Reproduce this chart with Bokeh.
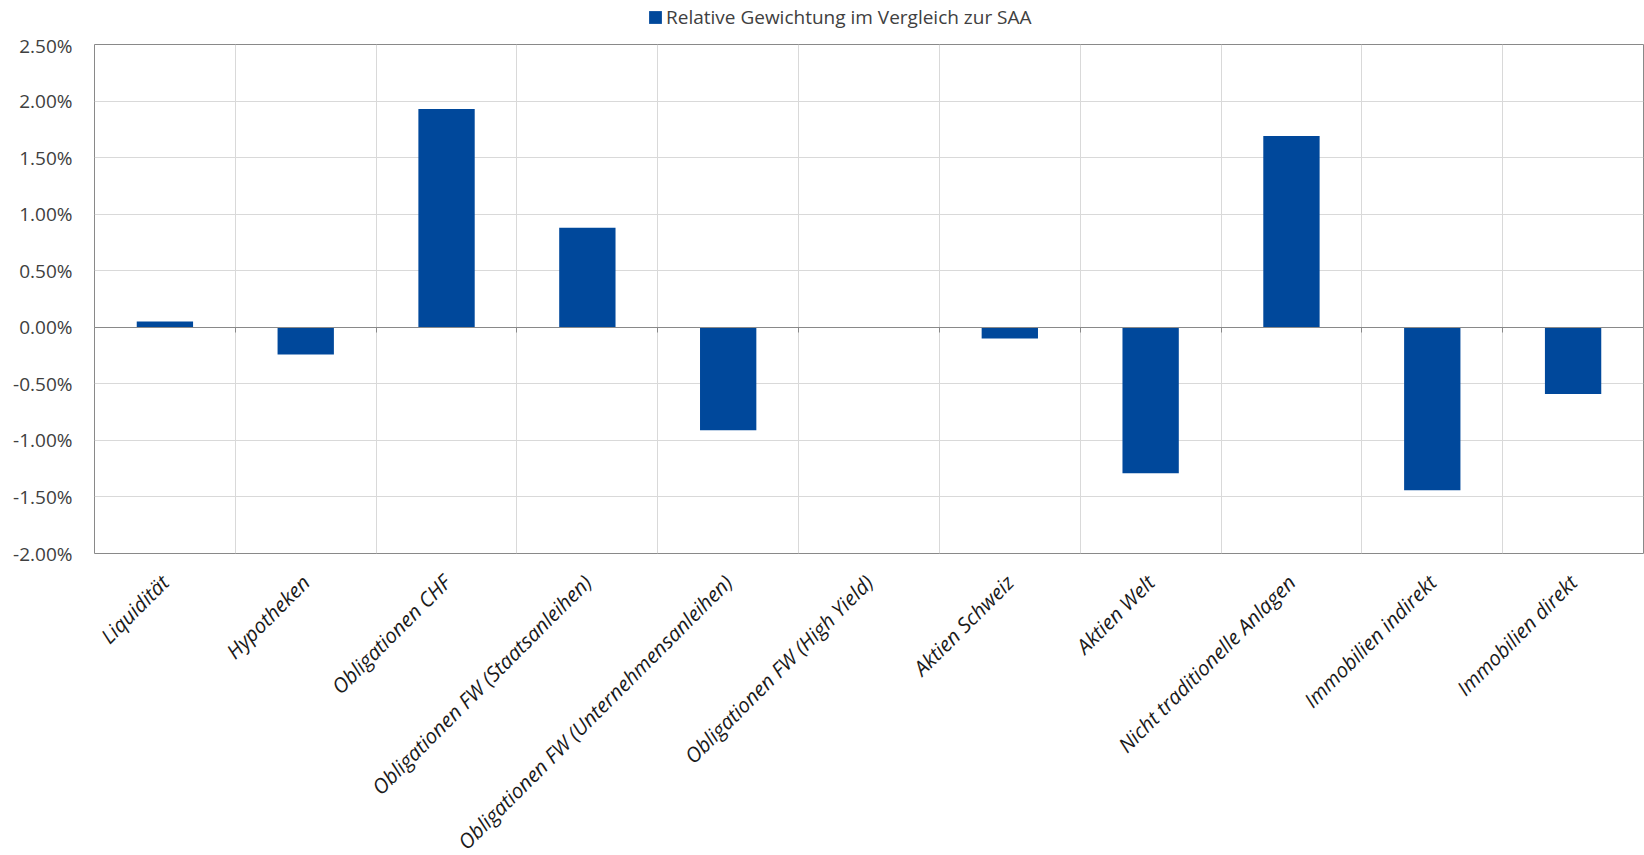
from math import pi

from bokeh.embed import file_html
from bokeh.layouts import column
from bokeh.models import (ColumnDataSource, FixedTicker, Legend, LegendItem,
                          LinearAxis, PrintfTickFormatter, Range1d)
from bokeh.plotting import figure
from bokeh.resources import INLINE

# Asset classes and their relative weight versus the strategic allocation (in %)
categories = [
    "Liquidität",
    "Hypotheken",
    "Obligationen CHF",
    "Obligationen FW (Staatsanleihen)",
    "Obligationen FW (Unternehmensanleihen)",
    "Obligationen FW (High Yield)",
    "Aktien Schweiz",
    "Aktien Welt",
    "Nicht traditionelle Anlagen",
    "Immobilien indirekt",
    "Immobilien direkt",
]
relative_weight = [0.05, -0.24, 1.93, 0.88, -0.91, 0.0, -0.10, -1.29, 1.69, -1.44, -0.59]
y_ticks = [-2.0, -1.5, -1.0, -0.5, 0.0, 0.5, 1.0, 1.5, 2.0, 2.5]
series_name = "Relative Gewichtung im Vergleich zur SAA"

FONT = "Open Sans"
BAR_COLOR = "#00489b"
GRID_COLOR = "#d9d9d9"
AXIS_COLOR = "#898989"

n = len(categories)
centers = [i + 0.5 for i in range(n)]
source = ColumnDataSource(dict(x=centers, top=relative_weight, name=categories))

# ---- main chart -----------------------------------------------------------
p = figure(
    frame_width=1549, frame_height=509,
    output_backend="svg", toolbar_location=None,
    x_range=Range1d(0, n), y_range=Range1d(y_ticks[0], y_ticks[-1]),
    min_border_left=94, min_border_right=1,
    min_border_top=12, min_border_bottom=300,
    outline_line_color=AXIS_COLOR, outline_line_width=1,
    background_fill_color="white", border_fill_color="white",
)

bars = p.vbar(x="x", top="top", bottom=0, width=0.4, source=source,
              fill_color=BAR_COLOR, line_color=None)

# Category labels along the bottom edge
xa = p.xaxis[0]
xa.ticker = FixedTicker(ticks=centers)
xa.major_label_overrides = {c: name for c, name in zip(centers, categories)}
xa.major_label_orientation = pi / 4
xa.major_label_text_font = FONT
xa.major_label_text_font_size = "20.5px"
xa.major_label_text_font_style = "italic"
xa.major_label_text_color = "#1a1a1a"
xa.major_label_standoff = 19
xa.major_tick_line_color = None
xa.minor_tick_line_color = None
xa.axis_line_color = None

# Percentage axis
ya = p.yaxis[0]
ya.ticker = FixedTicker(ticks=y_ticks)
ya.formatter = PrintfTickFormatter(format="%.2f%%")
ya.major_label_text_font = FONT
ya.major_label_text_font_size = "19px"
ya.major_label_text_color = "#404040"
ya.major_label_standoff = 16
ya.major_tick_line_color = None
ya.minor_tick_line_color = None
ya.axis_line_color = None

# Zero line with tick marks at the category boundaries
zero_axis = LinearAxis(
    fixed_location=0,
    ticker=FixedTicker(ticks=list(range(n + 1))),
    axis_line_color=AXIS_COLOR,
    major_tick_line_color=AXIS_COLOR,
    major_tick_in=0, major_tick_out=5,
    minor_tick_line_color=None,
    major_label_text_color=None,
    major_label_text_font_size="1px",
)
p.add_layout(zero_axis, "below")

# Grid
p.xgrid.ticker = FixedTicker(ticks=list(range(1, n)))
p.xgrid.grid_line_color = GRID_COLOR
p.ygrid.ticker = FixedTicker(ticks=y_ticks)
p.ygrid.grid_line_color = GRID_COLOR

# ---- legend strip above the chart -------------------------------------------
key_fig = figure(
    width=1644, height=32,
    output_backend="svg", toolbar_location=None,
    x_range=Range1d(0, 1), y_range=Range1d(0, 1),
    min_border=0, outline_line_color=None,
    background_fill_color="white", border_fill_color="white",
)
key_fig.axis.visible = False
key_fig.grid.visible = False
key_bars = key_fig.vbar(x="x", top="top", bottom=0, width=0.4, source=source,
                        fill_color=BAR_COLOR, line_color=None, visible=False)

legend = Legend(
    items=[LegendItem(label=series_name, renderers=[key_bars])],
    orientation="horizontal", location=(553, 2),
    glyph_width=16, glyph_height=16, label_standoff=3,
    label_text_font=FONT, label_text_font_size="19px", label_text_color="#404040",
    padding=0, margin=0, border_line_color=None, background_fill_alpha=0,
)
key_fig.add_layout(legend, "center")

open("out.html", "w").write(file_html(column(key_fig, p, spacing=0), INLINE))
